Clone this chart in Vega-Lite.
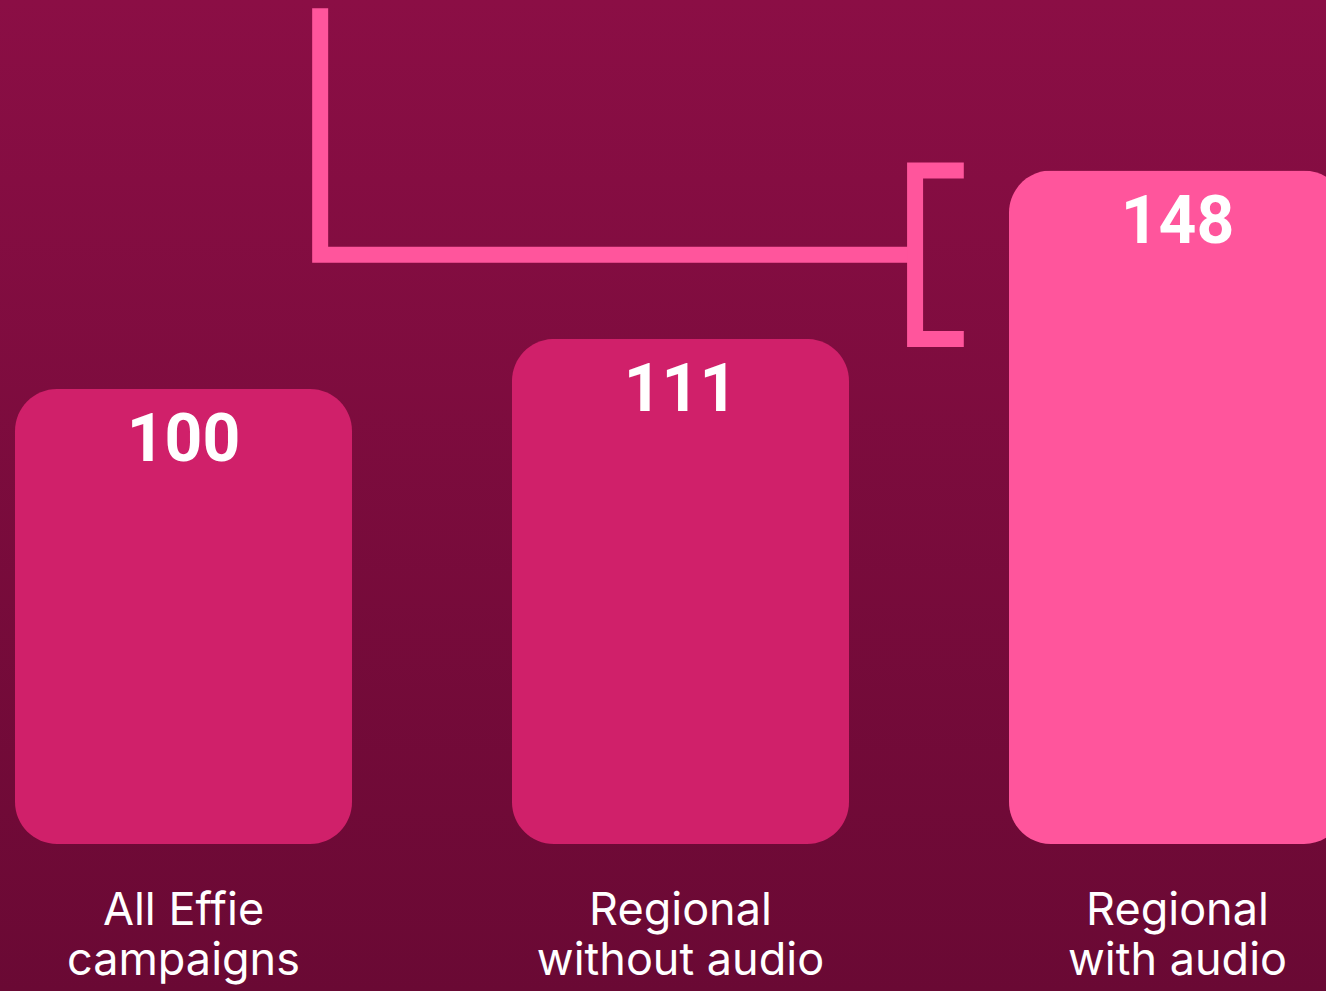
{
  "$schema": "https://vega.github.io/schema/vega-lite/v6.json",
  "width": 1326,
  "height": 991,
  "autosize": {"type": "none"},
  "padding": 0,
  "background": "#7a0c3c",
  "config": {
    "view": {
      "stroke": null,
      "fill": {
        "gradient": "linear",
        "x1": 0, "y1": 0, "x2": 0, "y2": 1,
        "stops": [
          {"offset": 0, "color": "#8b0e45"},
          {"offset": 1, "color": "#6a0934"}
        ]
      }
    }
  },
  "datasets": {
    "bars": [
      {"category": "All Effie\ncampaigns", "value": 100, "group": "other"},
      {"category": "Regional\nwithout audio", "value": 111, "group": "other"},
      {"category": "Regional\nwith audio", "value": 148, "group": "highlight"}
    ],
    "bracket": [
      {"seg": "a", "ord": 1, "pos": 0.275, "level": 183.7},
      {"seg": "a", "ord": 2, "pos": 0.275, "level": 129.5},
      {"seg": "a", "ord": 3, "pos": 1.472, "level": 129.5},
      {"seg": "b", "ord": 1, "pos": 1.57, "level": 148},
      {"seg": "b", "ord": 2, "pos": 1.472, "level": 148},
      {"seg": "b", "ord": 3, "pos": 1.472, "level": 111},
      {"seg": "b", "ord": 4, "pos": 1.57, "level": 111}
    ]
  },
  "layer": [
    {
      "data": {"name": "bars"},
      "mark": {"type": "bar", "cornerRadius": 42},
      "encoding": {
        "x": {
          "field": "category",
          "type": "nominal",
          "sort": null,
          "scale": {"type": "band", "range": [0, 1361], "paddingInner": 0.32193, "paddingOuter": 0.030181},
          "axis": {
            "orient": "bottom",
            "offset": -103,
            "domain": false,
            "ticks": false,
            "grid": false,
            "title": null,
            "labelPadding": 0,
            "labelAngle": 0,
            "labelFont": "Inter",
            "labelFontSize": 45,
            "labelFontWeight": "normal",
            "labelColor": "#ffffff",
            "labelLineHeight": 50,
            "labelLimit": 0,
            "labelOverlap": false,
            "labelExpr": "split(datum.label, '\\n')"
          }
        },
        "y": {
          "field": "value",
          "type": "quantitative",
          "scale": {"domain": [0, 185.5], "range": [844, 0]},
          "axis": null
        },
        "color": {
          "field": "group",
          "type": "nominal",
          "scale": {"domain": ["other", "highlight"], "range": ["#d0206a", "#ff559c"]},
          "legend": null
        }
      }
    },
    {
      "data": {"name": "bars"},
      "mark": {
        "type": "text",
        "font": "Roboto",
        "fontWeight": "bold",
        "fontSize": 66,
        "color": "#ffffff",
        "align": "center",
        "baseline": "alphabetic",
        "dy": 72
      },
      "encoding": {
        "x": {
          "field": "category",
          "type": "nominal",
          "sort": null,
          "bandPosition": 0.5,
          "scale": {"type": "band", "range": [0, 1361], "paddingInner": 0.32193, "paddingOuter": 0.030181},
          "axis": null
        },
        "y": {
          "field": "value",
          "type": "quantitative",
          "scale": {"domain": [0, 185.5], "range": [844, 0]},
          "axis": null
        },
        "text": {"field": "value", "type": "quantitative"}
      }
    },
    {
      "data": {"name": "bracket"},
      "mark": {
        "type": "line",
        "color": "#ff559c",
        "strokeWidth": 16,
        "strokeCap": "butt",
        "strokeJoin": "miter"
      },
      "encoding": {
        "x": {
          "field": "pos",
          "type": "quantitative",
          "scale": {"domain": [0, 2], "range": [183.5, 1177.5]},
          "axis": null
        },
        "y": {
          "field": "level",
          "type": "quantitative",
          "scale": {"domain": [0, 185.5], "range": [844, 0]},
          "axis": null
        },
        "detail": {"field": "seg", "type": "nominal"},
        "order": {"field": "ord", "type": "quantitative"}
      }
    }
  ],
  "resolve": {"scale": {"x": "independent"}}
}
